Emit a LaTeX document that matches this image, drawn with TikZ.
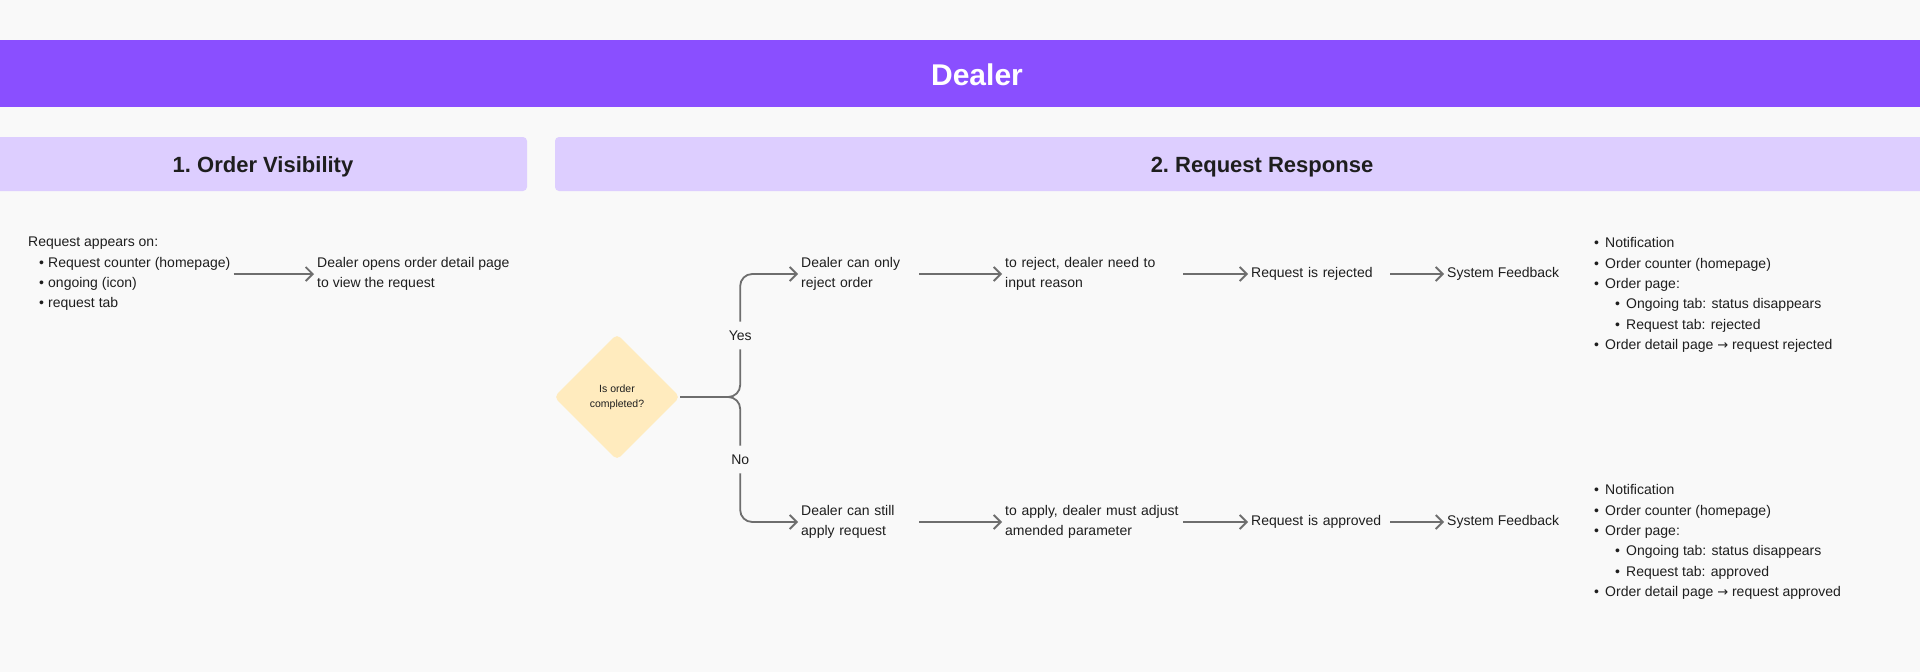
\documentclass[tikz,border=0pt]{standalone}
\usepackage{fontspec}
\setmainfont{Liberation Sans}
\newfontfamily\arrowfont{DejaVu Sans}
\usepackage{xcolor}
\usetikzlibrary{arrows.meta, shapes.geometric, positioning}

\definecolor{canvas}{HTML}{F9F9F9}
\definecolor{dealerpurple}{HTML}{8A4FFF}
\definecolor{phaselilac}{HTML}{DDCEFF}
\definecolor{decisionsand}{HTML}{FFEBBE}
\definecolor{inkdark}{HTML}{1E1E1E}
\definecolor{linkgray}{HTML}{6E6E6E}

\newcommand{\bul}[2][11pt]{\makebox[#1][l]{\textbullet}#2}
\newcommand{\goesto}{{\arrowfont\fontsize{13}{13}\selectfont →}}

\tikzset{
	txt/.style = {font = \fontsize{14}{20.4}\selectfont, text = inkdark, align = left, inner sep = 3pt, anchor = west},
	head/.style = {font = \bfseries\fontsize{22}{26}\selectfont, text = inkdark},
	flow/.style = {draw = linkgray, line width = 1.8pt, -{Straight Barb[length = 7pt, width = 14pt]}},
	lbl/.style = {font = \fontsize{14}{20}\selectfont, text = inkdark, fill = canvas, inner xsep = 2pt, inner ysep = 9pt},
}

\begin{document}
\begin{tikzpicture}[x = 1pt, y = -1pt]
		\def\ya{274};
		\def\yb{522};

		\useasboundingbox (0,0) rectangle (1920,672);
		\fill[canvas] (0,0) rectangle (1920,672);
		\fill[dealerpurple] (-10,40) rectangle (1990,107);
		\fill[phaselilac, rounded corners = 4pt] (-10,137) rectangle (527,191);
		\fill[phaselilac, rounded corners = 4pt] (555,137) rectangle (1969,191);

		\node[font = \bfseries\fontsize{30}{36}\selectfont, text = white] (dealer) at (977,75) {Dealer};
		\node[head] (visibility) at (263,167) {1.\ Order Visibility};
		\node[head] (response) at (1262,167) {2.\ Request Response};

		\node[txt] (appears) at (25,\ya) {Request appears on:\\
			\hspace*{11pt}\bul[9pt]{Request counter (homepage)}\\
			\hspace*{11pt}\bul[9pt]{ongoing (icon)}\\
			\hspace*{11pt}\bul[9pt]{request tab}};
		\node[txt] (opens) at (314,\ya) {Dealer opens order detail page\\to view the request};

		\node[diamond, aspect = 1, minimum width = 126pt, minimum height = 126pt, inner sep = 0pt,
			rounded corners = 5pt, fill = decisionsand, text = inkdark, align = center,
			font = \fontsize{10.5}{15}\selectfont] (completed) at (617,397) {Is order\\completed?};

		\node[txt, text width = 115pt] (only) at (798,\ya) {Dealer can only\\reject order};
		\node[txt, text width = 175pt] (reason) at (1002,\ya) {to reject, dealer need to\\input reason};
		\node[txt, text width = 136pt] (rejected) at (1248,\ya) {Request is rejected};
		\node[txt] (feedbackA) at (1444,\ya) {System Feedback};
		\node[txt] (listA) at (1591,295) {\bul{Notification}\\
			\bul{Order counter (homepage)}\\
			\bul{Order page:}\\
			\hspace*{21pt}\bul{Ongoing tab: status disappears}\\
			\hspace*{21pt}\bul{Request tab: rejected}\\
			\bul{Order detail page\ \goesto\ request rejected}};

		\node[txt, text width = 115pt] (still) at (798,\yb) {Dealer can still\\apply request};
		\node[txt, text width = 175pt] (adjust) at (1002,\yb) {to apply, dealer must adjust\\amended parameter};
		\node[txt, text width = 136pt] (approved) at (1248,\yb) {Request is approved};
		\node[txt] (feedbackB) at (1444,\yb) {System Feedback};
		\node[txt] (listB) at (1591,542) {\bul{Notification}\\
			\bul{Order counter (homepage)}\\
			\bul{Order page:}\\
			\hspace*{21pt}\bul{Ongoing tab: status disappears}\\
			\hspace*{21pt}\bul{Request tab: approved}\\
			\bul{Order detail page\ \goesto\ request approved}};

		\begin{scope}[flow]
			\draw (appears) -- (opens);
			\draw[rounded corners = 12pt] (completed.east) -- ++(60,0) |- (only.west) node[lbl, pos = 0.25] {Yes};
			\draw[rounded corners = 12pt] (completed.east) -- ++(60,0) |- (still.west) node[lbl, pos = 0.25] {No};
			\draw (only) -- (reason);
			\draw (reason) -- (rejected);
			\draw (rejected) -- (feedbackA);
			\draw (still) -- (adjust);
			\draw (adjust) -- (approved);
			\draw (approved) -- (feedbackB);
		\end{scope}
	\end{tikzpicture}
\end{document}
